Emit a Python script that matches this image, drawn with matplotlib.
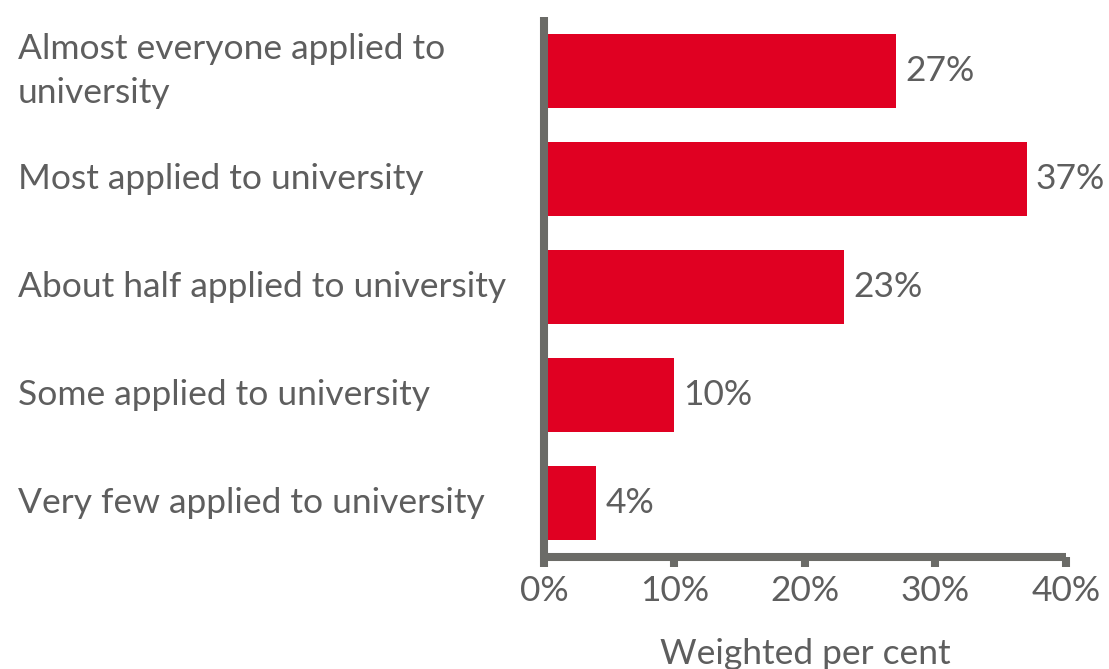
import matplotlib.pyplot as plt
import matplotlib.transforms as mtransforms
import numpy as np

categories = [
    'Almost everyone applied to\nuniversity',
    'Most applied to university',
    'About half applied to university',
    'Some applied to university',
    'Very few applied to university',
]
values = [27, 37, 23, 10, 4]
xticks = [0, 10, 20, 30, 40]

red = '#e00022'
grey_axis = '#6b6b67'
grey_text = '#5e5e5e'
fs = 25.5

plt.rcParams['font.family'] = ['Lato', 'DejaVu Sans']

fig = plt.figure(figsize=(11.09, 6.69), dpi=100)
ax = fig.add_axes([0.4905, 0.1674, 0.4707, 0.8072])

y = np.arange(len(categories))
ax.barh(y, values, height=0.68, color=red, left=0)

ax.set_xlim(0, 40)
ax.set_ylim(len(categories) - 0.5, -0.5)

for s in ['top', 'right']:
    ax.spines[s].set_visible(False)
for s in ['left', 'bottom']:
    ax.spines[s].set_color(grey_axis)
    ax.spines[s].set_linewidth(5.8)
    ax.spines[s].set_capstyle('butt')

ax.set_yticks([])
ax.set_xticks(xticks)
ax.set_xticklabels([f'{t}%' for t in xticks], fontsize=fs, color=grey_text)
ax.tick_params(axis='x', length=7, width=5.8, color=grey_axis, pad=6, direction='out')

ax.set_xlabel('Weighted per cent', fontsize=fs, color=grey_text, labelpad=22)

# category labels, left aligned against the figure edge
trans = mtransforms.blended_transform_factory(fig.transFigure, ax.transData)
for yi, cat in zip(y, categories):
    ax.text(0.016, yi, cat, transform=trans, ha='left', va='center',
            fontsize=fs, color=grey_text, linespacing=1.45)

for yi, v in zip(y, values):
    ax.text(v + 0.7, yi, f'{v}%', ha='left', va='center', fontsize=fs, color=grey_text)

fig.savefig('out.png', dpi=100)
